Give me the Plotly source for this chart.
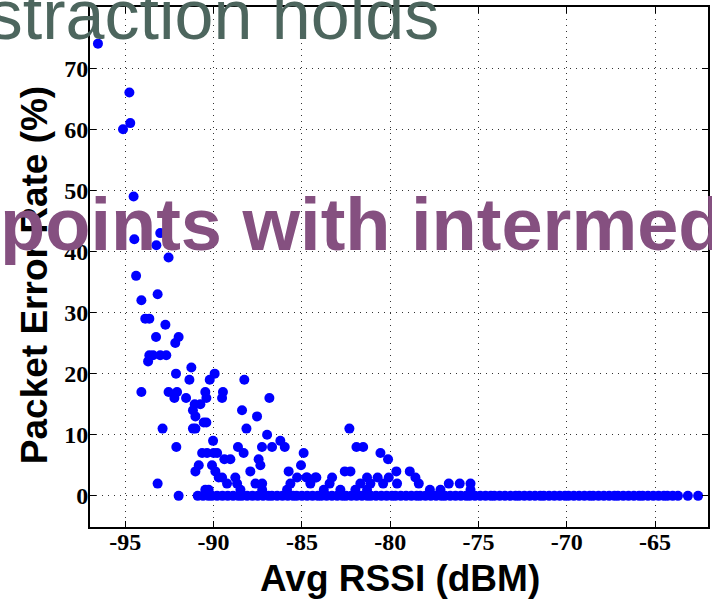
import plotly.graph_objects as go

# ---- data ----
rssi_scatter = [
    -96.55, -94.77, -94.72, -95.13, -94.53, -94.49, -93.02, -93.24, -92.55, -94.39,
    -93.17, -94.09, -93.87, -93.64, -92.73, -93.26, -91.98, -92.17, -93.64, -93.43,
    -93.02, -92.68, -93.71, -92.13, -91.26, -91.37, -90.22, -89.94, -88.26, -94.09,
    -92.55, -92.07, -92.22, -91.56, -90.47, -90.41, -89.47, -89.52, -86.84, -91.07,
    -90.75, -91.17, -91.03, -88.39, -87.54, -90.56, -90.41, -91.17, -91.03, -92.89,
    -88.14, -86.97, -90.03, -86.22, -85.97, -92.11, -88.62, -88.30, -87.26, -86.69,
    -84.90, -90.65, -90.37, -90.00, -89.80, -89.39, -89.05, -87.45, -87.35, -85.05,
    -90.84, -91.03, -90.09, -89.90, -87.92, -85.75, -89.71, -89.52, -88.77, -85.27,
    -84.70, -84.18, -89.24, -88.67, -87.63, -87.25, -85.65, -84.52, -93.17, -88.48,
    -87.25, -85.84, -90.47, -90.28, -91.98, -82.31, -81.91, -81.53, -80.55, -80.12,
    -82.57, -82.25, -79.65, -78.89, -84.75, -84.24, -83.29, -81.31, -80.71, -80.08,
    -78.57, -83.43, -81.69, -81.12, -80.40, -79.61, -78.38, -76.68, -76.06, -75.45,
    -83.76, -82.82, -81.97, -81.31, -77.75, -77.15, -75.45, -63.14, -62.56,
]
per_scatter = [
    74, 66, 61, 60, 49, 42, 43, 41, 39, 36,
    33, 32, 29, 29, 28, 26, 26, 25, 23, 23,
    23, 23, 22, 20, 21, 19, 19, 20, 19, 17,
    17, 17, 16, 16, 17, 16, 17, 16, 16, 15,
    15, 14, 13, 14, 13, 12, 12, 11, 11, 11,
    11, 10, 9, 9, 8, 8, 8, 7, 8, 8,
    7, 7, 7, 7, 7, 6, 6, 6, 5, 5,
    5, 4, 5, 4, 4, 4, 3, 3, 3, 3,
    3, 3, 2, 2, 2, 2, 2, 2, 2, 1,
    1, 1, 1, 1, 0, 11, 8, 8, 7, 6,
    4, 4, 4, 4, 3, 3, 3, 3, 3, 3,
    3, 2, 2, 2, 2, 2, 2, 2, 2, 2,
    1, 1, 1, 1, 1, 1, 1, 0, 0,
]
# zero-loss band
rssi_zero = [
    -90.9, -90.6, -90.3, -90.1, -89.8, -89.5, -89.2, -88.9, -88.6, -88.4,
    -88.1, -87.8, -87.5, -87.2, -86.9, -86.7, -86.4, -86.1, -85.8, -85.5,
    -85.3, -85.0, -84.7, -84.4, -84.1, -83.9, -83.6, -83.3, -83.0, -82.7,
    -82.5, -82.2, -81.9, -81.6, -81.3, -81.1, -80.8, -80.5, -80.2, -79.9,
    -79.7, -79.4, -79.1, -78.8, -78.5, -78.3, -78.0, -77.7, -77.4, -77.1,
    -76.9, -76.6, -76.3, -76.0, -75.7, -75.5, -75.2, -74.9, -74.6, -74.3,
    -74.1, -73.8, -73.5, -73.2, -72.9, -72.7, -72.4, -72.1, -71.8, -71.5,
    -71.3, -71.0, -70.7, -70.4, -70.1, -69.9, -69.6, -69.3, -69.0, -68.7,
    -68.5, -68.2, -67.9, -67.6, -67.3, -67.1, -66.8, -66.5, -66.2, -65.9,
    -65.7, -65.4, -65.1, -64.8, -64.5, -64.3, -64.0, -63.7,
]
per_zero = [0] * len(rssi_zero)

x_ticks = [-95, -90, -85, -80, -75, -70, -65]
y_ticks = [0, 10, 20, 30, 40, 50, 60, 70, 80]

x_title = "Avg RSSI (dBM)"
y_title = "Packet Error Rate (%)"
overlay_top = "abstraction holds"
overlay_mid = "points with intermediate"

fig = go.Figure()
fig.add_trace(go.Scatter(
    x=rssi_zero + rssi_scatter, y=per_zero + per_scatter, mode="markers",
    marker=dict(color="#0000ff", size=10, line=dict(width=0)),
    hoverinfo="skip", showlegend=False,
))

tickfont = dict(family="Liberation Serif", size=24, color="black", weight="bold")
axis_common = dict(
    showline=True, linecolor="black", linewidth=2, mirror="ticks",
    ticks="inside", ticklen=6, tickwidth=1, tickcolor="black",
    showgrid=True, gridcolor="#333333", gridwidth=1, griddash="1px,5px",
    zeroline=False, tickfont=tickfont,
)

fig.update_layout(
    width=712, height=606,
    margin=dict(l=90, r=2, t=7, b=79),
    paper_bgcolor="white", plot_bgcolor="white",
    xaxis=dict(range=[-97, -62], tickvals=x_ticks, ticktext=[str(v) for v in x_ticks],
               ticklabelstandoff=-8, **axis_common),
    yaxis=dict(range=[-5.1, 80], tickvals=y_ticks, ticktext=[str(v) for v in y_ticks],
               ticklabelstandoff=-5, **axis_common),
    font=dict(family="Liberation Sans"),
    annotations=[
        dict(text="<b>" + x_title + "</b>", xref="paper", yref="paper",
             x=(401 - 90) / 620, y=1 - (578 - 7) / 520, xanchor="center", yanchor="middle",
             showarrow=False, font=dict(family="Liberation Sans", size=37, color="black")),
        dict(text="<b>" + y_title + "</b>", xref="paper", yref="paper",
             x=(34 - 90) / 620, y=1 - (275 - 7) / 520, xanchor="center", yanchor="middle",
             textangle=-90,
             showarrow=False, font=dict(family="Liberation Sans", size=37, color="black")),
        dict(text=overlay_top, xref="paper", yref="paper",
             x=(442 - 90) / 620, y=1 - (15 - 7) / 520, xanchor="right", yanchor="middle",
             showarrow=False, font=dict(family="Liberation Sans", size=70, color="#4d665e")),
        dict(text="<b>" + overlay_mid + "</b>", xref="paper", yref="paper",
             x=(-2 - 90) / 620, y=1 - (224 - 7) / 520, xanchor="left", yanchor="middle",
             showarrow=False, font=dict(family="Liberation Sans", size=74, color="#855080")),
    ],
)

fig.write_html("out.html")
